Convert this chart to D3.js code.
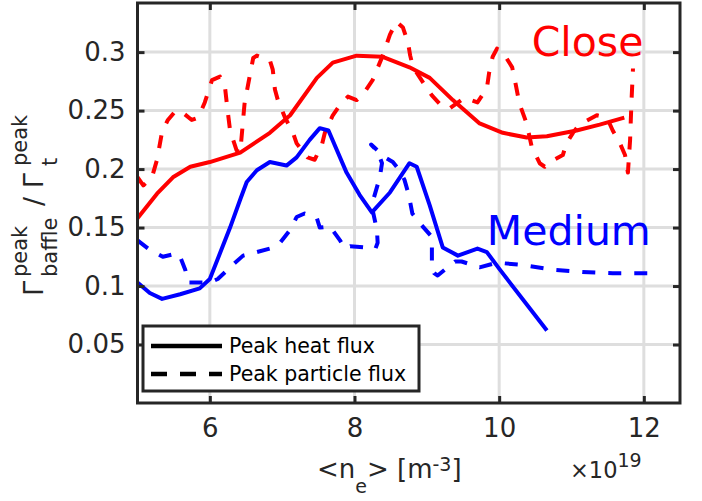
<!DOCTYPE html>
<html>
<head>
<meta charset="utf-8">
<script src="https://cdn.jsdelivr.net/npm/d3@7"></script>
<style>
  body { margin: 0; background: #fff; }
  text { font-family: "DejaVu Sans", sans-serif; }
</style>
</head>
<body>
<div id="chart"></div>
<script>
// Close configuration - peak heat flux (solid)
var closeHeatX = [5.0, 5.27, 5.49, 5.73, 6.0, 6.42, 6.83, 7.11, 7.48, 7.70, 8.03, 8.39, 8.76, 9.04, 9.36, 9.73, 10.05, 10.38, 10.66, 11.07, 11.39, 11.73];
var closeHeatY = [0.158, 0.179, 0.193, 0.202, 0.206, 0.214, 0.231, 0.246, 0.278, 0.291, 0.297, 0.296, 0.287, 0.278, 0.259, 0.239, 0.231, 0.227, 0.228, 0.233, 0.238, 0.244];

// Close configuration - peak particle flux (dashed)
var closePartX = [5.0, 5.08, 5.20, 5.27, 5.34, 5.42, 5.53, 5.63, 5.75, 5.84, 5.93, 6.03, 6.14, 6.21, 6.24, 6.28, 6.37, 6.42, 6.48, 6.55, 6.60, 6.65, 6.83, 6.87, 6.90, 6.94, 7.04, 7.15, 7.20, 7.35, 7.45, 7.55, 7.59, 7.70, 7.80, 7.91, 8.03, 8.14, 8.25, 8.39, 8.49, 8.58, 8.67, 8.74, 8.77, 8.81, 8.97, 9.07, 9.22, 9.32, 9.52, 9.70, 9.83, 9.86, 9.91, 9.97, 10.05, 10.18, 10.23, 10.28, 10.38, 10.45, 10.56, 10.63, 10.70, 10.88, 10.93, 11.02, 11.11, 11.35, 11.49, 11.57, 11.67, 11.74, 11.78, 11.81, 11.83, 11.85];
var closePartY = [0.193, 0.186, 0.193, 0.208, 0.232, 0.242, 0.250, 0.248, 0.242, 0.244, 0.257, 0.276, 0.279, 0.270, 0.253, 0.233, 0.216, 0.214, 0.256, 0.279, 0.295, 0.297, 0.293, 0.285, 0.268, 0.259, 0.244, 0.231, 0.222, 0.210, 0.208, 0.221, 0.231, 0.246, 0.255, 0.262, 0.259, 0.266, 0.276, 0.297, 0.315, 0.326, 0.321, 0.308, 0.297, 0.287, 0.272, 0.263, 0.253, 0.252, 0.261, 0.257, 0.269, 0.282, 0.296, 0.303, 0.300, 0.287, 0.272, 0.256, 0.239, 0.219, 0.205, 0.202, 0.206, 0.212, 0.222, 0.231, 0.238, 0.246, 0.244, 0.233, 0.222, 0.212, 0.197, 0.225, 0.259, 0.286];

// Medium configuration - peak heat flux (solid)
var medHeatX = [5.0, 5.17, 5.34, 5.59, 5.86, 6.0, 6.14, 6.28, 6.42, 6.51, 6.65, 6.83, 7.06, 7.20, 7.38, 7.52, 7.64, 7.89, 8.07, 8.24, 8.49, 8.76, 8.86, 9.04, 9.22, 9.43, 9.70, 9.83, 10.01, 10.66];
var medHeatY = [0.103, 0.094, 0.089, 0.093, 0.098, 0.106, 0.128, 0.150, 0.174, 0.189, 0.199, 0.206, 0.203, 0.210, 0.225, 0.235, 0.233, 0.197, 0.178, 0.163, 0.180, 0.205, 0.202, 0.169, 0.133, 0.126, 0.132, 0.129, 0.114, 0.062];

// Medium configuration - peak particle flux (dashed)
var medPartX = [5.0, 5.17, 5.35, 5.55, 5.59, 5.66, 5.70, 5.79, 6.0, 6.11, 6.28, 6.46, 6.65, 6.83, 6.97, 7.11, 7.20, 7.31, 7.48, 7.52, 7.66, 7.80, 7.87, 7.94, 8.14, 8.29, 8.32, 8.31, 8.25, 8.27, 8.35, 8.38, 8.32, 8.23, 8.42, 8.53, 8.62, 8.69, 8.75, 8.80, 8.90, 9.07, 9.07, 9.07, 9.10, 9.15, 9.27, 9.39, 9.48, 9.73, 9.97, 10.32, 10.74, 11.15, 11.57, 12.12];
var medPartY = [0.139, 0.131, 0.125, 0.128, 0.125, 0.114, 0.103, 0.103, 0.103, 0.106, 0.116, 0.126, 0.129, 0.132, 0.137, 0.148, 0.159, 0.162, 0.158, 0.150, 0.151, 0.139, 0.132, 0.134, 0.133, 0.132, 0.137, 0.148, 0.165, 0.176, 0.193, 0.205, 0.215, 0.221, 0.210, 0.206, 0.199, 0.191, 0.178, 0.162, 0.154, 0.142, 0.131, 0.116, 0.111, 0.109, 0.115, 0.121, 0.121, 0.116, 0.120, 0.118, 0.114, 0.112, 0.111, 0.111];

var xTicks = [6, 8, 10, 12];
var yTicks = [0.05, 0.1, 0.15, 0.2, 0.25, 0.3];
var legendLabels = ["Peak heat flux", "Peak particle flux"];

var W = 702, H = 501;
var margin = {top: 3, right: 22, bottom: 98, left: 137.5};
var width = W - margin.left - margin.right;
var height = H - margin.top - margin.bottom;
var axisColor = "#262626";

var svg = d3.select("#chart").append("svg")
    .attr("width", W)
    .attr("height", H);

var x = d3.scaleLinear().domain([5, 12.5]).range([0, width]);
var y = d3.scaleLinear().domain([0, 0.342]).range([height, 0]);

var g = svg.append("g")
    .attr("transform", "translate(" + margin.left + "," + margin.top + ")");

// grid
g.append("g").selectAll("line").data(xTicks).enter().append("line")
    .attr("x1", d => x(d)).attr("x2", d => x(d))
    .attr("y1", 0).attr("y2", height)
    .attr("stroke", "#dedede").attr("stroke-width", 3);
g.append("g").selectAll("line").data(yTicks).enter().append("line")
    .attr("y1", d => y(d)).attr("y2", d => y(d))
    .attr("x1", 0).attr("x2", width)
    .attr("stroke", "#dedede").attr("stroke-width", 3);

// curves
function zip(xs, ys) { return xs.map((v, i) => [v, ys[i]]); }
var line = d3.line().x(d => x(d[0])).y(d => y(d[1]));

var series = [
  {data: zip(closePartX, closePartY), color: "#ff0000", dash: "13,13"},
  {data: zip(medPartX, medPartY), color: "#0000ff", dash: "13,13"},
  {data: zip(closeHeatX, closeHeatY), color: "#ff0000", dash: null},
  {data: zip(medHeatX, medHeatY), color: "#0000ff", dash: null}
];
series.forEach(function(s) {
  g.append("path")
      .datum(s.data)
      .attr("d", line)
      .attr("fill", "none")
      .attr("stroke", s.color)
      .attr("stroke-width", 4)
      .attr("stroke-linejoin", "round")
      .attr("stroke-dasharray", s.dash);
});

// axes box with inward ticks on all sides
var xAxisB = d3.axisBottom(x).tickValues(xTicks).tickSize(-7).tickPadding(16).tickFormat(d3.format("d"));
var xAxisT = d3.axisTop(x).tickValues(xTicks).tickSize(-7).tickFormat("");
var yAxisL = d3.axisLeft(y).tickValues(yTicks).tickSize(-7).tickPadding(12).tickFormat(d => String(d));
var yAxisR = d3.axisRight(y).tickValues(yTicks).tickSize(-7).tickFormat("");

function styleAxis(sel) {
  sel.select(".domain").remove();
  sel.selectAll(".tick line").attr("stroke", axisColor).attr("stroke-width", 3);
  sel.selectAll(".tick text").attr("fill", axisColor).style("font-size", "26px")
      .style("font-family", "DejaVu Sans");
}
g.append("g").attr("transform", "translate(0," + height + ")").call(xAxisB).call(styleAxis);
g.append("g").call(xAxisT).call(styleAxis);
g.append("g").call(yAxisL).call(styleAxis);
g.append("g").attr("transform", "translate(" + width + ",0)").call(yAxisR).call(styleAxis);

g.append("rect")
    .attr("width", width).attr("height", height)
    .attr("fill", "none").attr("stroke", axisColor).attr("stroke-width", 3);

// curve labels
g.append("text").attr("x", x(10.45)).attr("y", y(0.297))
    .attr("fill", "#ff0000").style("font-size", "41px").text("Close");
g.append("text").attr("x", x(9.83)).attr("y", y(0.135))
    .attr("fill", "#0000ff").style("font-size", "41px").text("Medium");

// legend
var leg = svg.append("g").attr("transform", "translate(143,326)");
leg.append("rect").attr("width", 276).attr("height", 65)
    .attr("fill", "#fff").attr("stroke", axisColor).attr("stroke-width", 3);
legendLabels.forEach(function(lbl, i) {
  var ly = 20 + i * 28;
  leg.append("line").attr("x1", 8).attr("x2", 79).attr("y1", ly).attr("y2", ly)
      .attr("stroke", "#000").attr("stroke-width", 4.5)
      .attr("stroke-dasharray", i === 1 ? "16,13" : null);
  leg.append("text").attr("x", 86).attr("y", ly + 7)
      .attr("fill", "#000").style("font-size", "20.5px").text(lbl);
});

// x label
var xl = svg.append("text").attr("x", 317).attr("y", 478)
    .attr("fill", axisColor).style("font-size", "26px");
xl.append("tspan").text("<n");
xl.append("tspan").attr("dy", 15).style("font-size", "19px").text("e");
xl.append("tspan").attr("dy", -15).text("> [m");
xl.append("tspan").attr("dy", -7).style("font-size", "19px").text("-3");
xl.append("tspan").attr("dy", 7).text("]");

// exponent label
var ex = svg.append("text").attr("x", 570).attr("y", 478)
    .attr("fill", axisColor).style("font-size", "22.5px");
ex.append("tspan").text("\u00d710");
ex.append("tspan").attr("dy", -11).style("font-size", "19px").text("19");

// y label
var yl = svg.append("g").attr("transform", "translate(43,296) rotate(-90)")
    .attr("fill", axisColor);
yl.append("text").attr("x", 0).attr("y", 0).style("font-size", "27px").text("\u0393");
yl.append("text").attr("x", 19).attr("y", -16).style("font-size", "21px").text("peak");
yl.append("text").attr("x", 19).attr("y", 14).style("font-size", "21px").text("baffle");
yl.append("text").attr("x", 90).attr("y", 0).style("font-size", "27px").text("/ \u0393");
yl.append("text").attr("x", 130).attr("y", -16).style("font-size", "21px").text("peak");
yl.append("text").attr("x", 130).attr("y", 14).style("font-size", "21px").text("t");
</script>
</body>
</html>
